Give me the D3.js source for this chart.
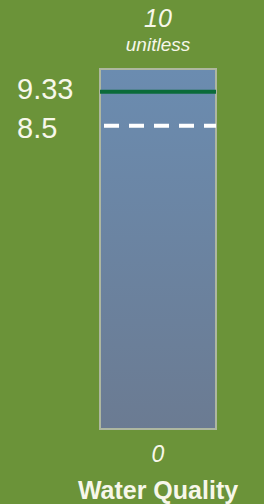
<!DOCTYPE html>
<html><head><meta charset="utf-8">
<script src="https://cdn.jsdelivr.net/npm/d3@7"></script>
<style>
html,body{margin:0;padding:0;background:#6b9339;}
svg{display:block;font-family:"Liberation Sans",Arial,sans-serif;}
</style></head>
<body>
<script>
const category = "Water Quality";
const unit = "unitless";
const scaleMin = 0;
const scaleMax = 10;
const currentValue = [9.33];
const targetValue = [8.5];

const W = 264, H = 504;
const svg = d3.select("body").append("svg").attr("width", W).attr("height", H);

const boxL = 100, boxR = 216, boxT = 69, boxB = 429;
const y = d3.scaleLinear().domain([8.5, 9.33]).range([125.7, 91.7]);

const defs = svg.append("defs");
const grad = defs.append("linearGradient").attr("id","g").attr("x1",0).attr("y1",0).attr("x2",0).attr("y2",1);
grad.append("stop").attr("offset","0%").attr("stop-color","#6b8cb0");
grad.append("stop").attr("offset","100%").attr("stop-color","#6b7b92");

svg.append("rect").attr("x",boxL).attr("y",boxT).attr("width",boxR-boxL).attr("height",boxB-boxT)
  .attr("fill","url(#g)").attr("stroke","#aeb7a0").attr("stroke-width",2);

const tc = "#f7f7ea";
const cx = (boxL+boxR)/2;

svg.append("text").attr("x",cx).attr("y",27).attr("text-anchor","middle")
  .attr("font-style","italic").attr("font-size",25).attr("fill",tc).text(scaleMax);
svg.append("text").attr("x",cx).attr("y",51).attr("text-anchor","middle")
  .attr("font-style","italic").attr("font-size",19).attr("fill",tc).text(unit);
svg.append("text").attr("x",cx).attr("y",462).attr("text-anchor","middle")
  .attr("font-style","italic").attr("font-size",23).attr("fill",tc).text(scaleMin);
svg.append("text").attr("x",cx).attr("y",499).attr("text-anchor","middle")
  .attr("font-weight","bold").attr("font-size",25).attr("fill",tc).text(category);

svg.selectAll("line.cur").data(currentValue).join("line").attr("class","cur")
  .attr("x1",boxL).attr("x2",boxR).attr("y1",d=>y(d)).attr("y2",d=>y(d))
  .attr("stroke","#0b6b3a").attr("stroke-width",4);
svg.selectAll("line.tgt").data(targetValue).join("line").attr("class","tgt")
  .attr("x1",boxL+4).attr("x2",boxR).attr("y1",d=>y(d)).attr("y2",d=>y(d))
  .attr("stroke","#ffffff").attr("stroke-width",4).attr("stroke-dasharray","15,10");

const labY = {9.33: 99, 8.5: 138};
svg.selectAll("text.lab").data(currentValue.concat(targetValue)).join("text").attr("class","lab")
  .attr("x",17).attr("y",d=>y(d) + (d === currentValue[0] ? 7.5 : 12)).attr("font-size",29).attr("fill",tc).text(d=>d);
</script>
</body></html>
